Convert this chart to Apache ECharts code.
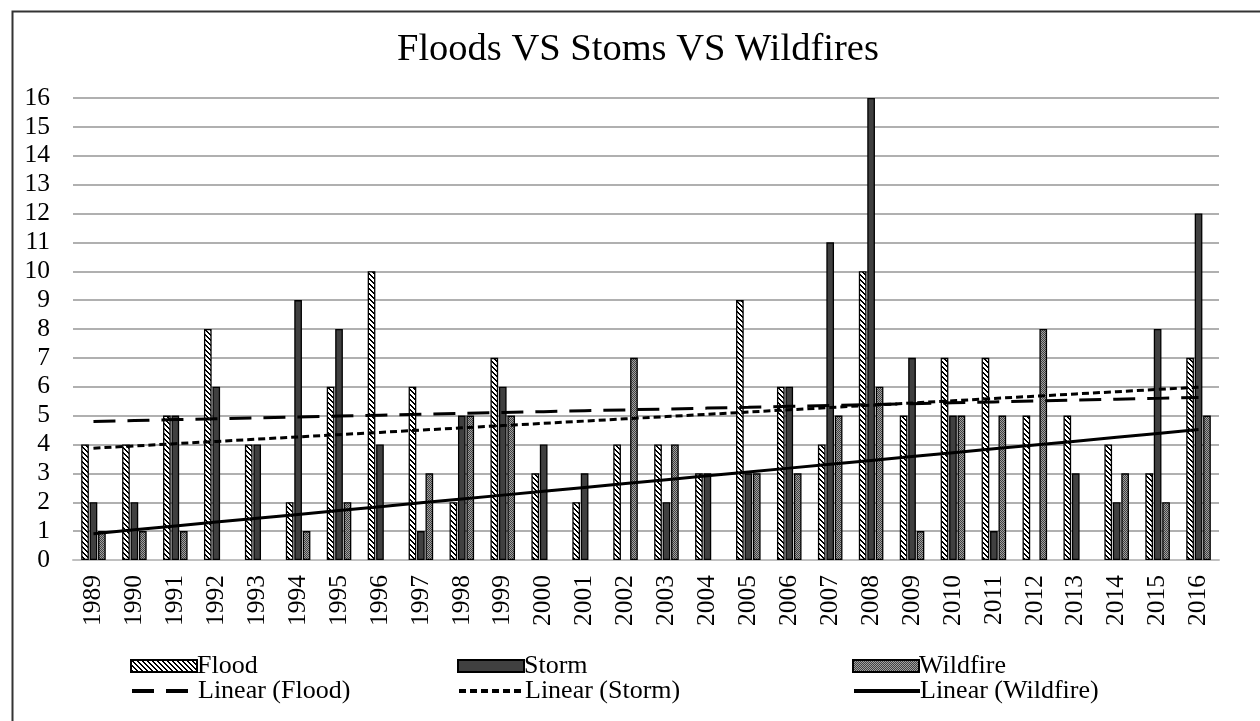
<!DOCTYPE html>
<html>
<head>
<meta charset="utf-8">
<script src="https://cdn.jsdelivr.net/npm/echarts@6/dist/echarts.min.js"></script>
<style>
html,body{margin:0;padding:0;background:#fff;}
#chart{width:1260px;height:721px;}
</style>
</head>
<body>
<div id="chart"></div>
<script>
const years = ['1989','1990','1991','1992','1993','1994','1995','1996','1997','1998','1999','2000','2001','2002','2003','2004','2005','2006','2007','2008','2009','2010','2011','2012','2013','2014','2015','2016'];
const flood    = [4,4,5,8,4,2,6,10,6,2,7,3,2,4,4,3,9,6,4,10,5,7,7,5,5,4,3,7];
const storm    = [2,2,5,6,4,9,8,4,1,5,6,4,3,0,2,3,3,6,11,16,7,5,1,0,3,2,8,12];
const wildfire = [1,1,1,0,0,1,2,0,3,5,5,0,0,7,4,0,3,3,5,6,1,5,5,8,0,3,2,5];
const yTicks = [0,1,2,3,4,5,6,7,8,9,10,11,12,13,14,15,16];

// Least-squares linear trend (as Excel's "Linear" trendline), x = 1..n
function linearTrend(arr){
  const n = arr.length;
  let sx=0, sy=0, sxy=0, sxx=0;
  arr.forEach((y,i)=>{const x=i+1; sx+=x; sy+=y; sxy+=x*y; sxx+=x*x;});
  const b = (n*sxy - sx*sy)/(n*sxx - sx*sx);
  const a = (sy - b*sx)/n;
  return arr.map((_,i)=> +(a + b*(i+1)).toFixed(4));
}
// zero-height bars are not drawn in the reference
const barData = arr => arr.map(v => v === 0 ? '-' : v);

function makePattern(size, draw){
  const c = document.createElement('canvas');
  c.width = size; c.height = size;
  const ctx = c.getContext('2d');
  draw(ctx, size);
  return {image: c, repeat: 'repeat'};
}
const floodPattern = makePattern(5, (ctx,s)=>{
  ctx.fillStyle='#ffffff'; ctx.fillRect(0,0,s,s);
  ctx.fillStyle='#000000';
  for(let i=0;i<s;i++){ ctx.fillRect(i,i,1,1); ctx.fillRect((i+1)%s,i,1,1); }
});
const wildPattern = makePattern(2, (ctx,s)=>{
  ctx.fillStyle='#a0a0a0'; ctx.fillRect(0,0,s,s);
  ctx.fillStyle='#404040'; ctx.fillRect(0,0,1,1); ctx.fillRect(1,1,1,1);
});

const FONT = '"Liberation Serif", "Times New Roman", serif';
const chart = echarts.init(document.getElementById('chart'));

function leg(name, left, top, isLine){
  const o = {
    left: left, top: top, orient: 'horizontal', padding: 0,
    itemWidth: 66, itemHeight: 12, itemGap: 0,
    textStyle: {fontFamily: FONT, fontSize: 26, color: '#000', padding: [0,0,0,-5]},
    selectedMode: false
  };
  if (isLine) {
    o.data = [name];
    o.itemStyle = {opacity: 0, color: 'rgba(0,0,0,0)', borderWidth: 0};
    o.lineStyle = {width: 4, type: 'inherit', color: '#000'};
  } else {
    o.data = [{name: name, icon: 'rect'}];
  }
  return o;
}

chart.setOption({
  animation: false,
  backgroundColor: '#fff',
  title: {
    text: 'Floods VS Stoms VS Wildfires',
    left: 392, top: 25,
    textStyle: {fontFamily: FONT, fontSize: 38.5, fontWeight: 'normal', color: '#000'}
  },
  graphic: [{
    type: 'rect', left: 10, top: 9, silent: true, z: -1,
    shape: {x: 0, y: 0, width: 1300, height: 800},
    style: {fill: 'none', stroke: '#333', lineWidth: 2}
  }],
  legend: [
    leg('Flood', 130, 653, false),
    leg('Storm', 457, 653, false),
    leg('Wildfire', 852, 653, false),
    leg('Linear (Flood)', 130, 678, true),
    leg('Linear (Storm)', 457, 678, true),
    leg('Linear (Wildfire)', 852, 678, true)
  ],
  grid: {left: 73, right: 41, top: 98, bottom: 161, containLabel: false},
  xAxis: {
    type: 'category', data: years,
    axisLine: {show: true, lineStyle: {color: '#c0c0c0', width: 2}},
    axisTick: {show: false},
    axisLabel: {rotate: 90, margin: 15, fontFamily: FONT, fontSize: 25.5, color: '#000'}
  },
  yAxis: {
    type: 'value', min: 0, max: 16, interval: 1,
    axisLine: {show: false}, axisTick: {show: false},
    axisLabel: {margin: 23, fontFamily: FONT, fontSize: 25.5, color: '#000',
      formatter: v => yTicks.includes(v) ? String(v) : ''},
    splitLine: {lineStyle: {color: '#b0b0b0', width: 2}}
  },
  series: [
    {name: 'Flood', type: 'bar', data: barData(flood), barCategoryGap: '40%', barGap: '10%',
     itemStyle: {color: floodPattern, borderColor: '#000', borderWidth: 1.3}},
    {name: 'Storm', type: 'bar', data: barData(storm), barCategoryGap: '40%', barGap: '10%',
     itemStyle: {color: '#404040', borderColor: '#000', borderWidth: 1.3}},
    {name: 'Wildfire', type: 'bar', data: barData(wildfire), barCategoryGap: '40%', barGap: '10%',
     itemStyle: {color: wildPattern, borderColor: '#000', borderWidth: 1.3}},
    {name: 'Linear (Flood)', type: 'line', data: linearTrend(flood), symbol: 'none', z: 5,
     itemStyle: {color: '#000'},
     lineStyle: {color: '#000', width: 3, type: [22, 12]}},
    {name: 'Linear (Storm)', type: 'line', data: linearTrend(storm), symbol: 'none', z: 5,
     itemStyle: {color: '#000'},
     lineStyle: {color: '#000', width: 3, type: [7, 4]}},
    {name: 'Linear (Wildfire)', type: 'line', data: linearTrend(wildfire), symbol: 'none', z: 5,
     itemStyle: {color: '#000'},
     lineStyle: {color: '#000', width: 3, type: 'solid'}}
  ]
});
</script>
</body>
</html>
